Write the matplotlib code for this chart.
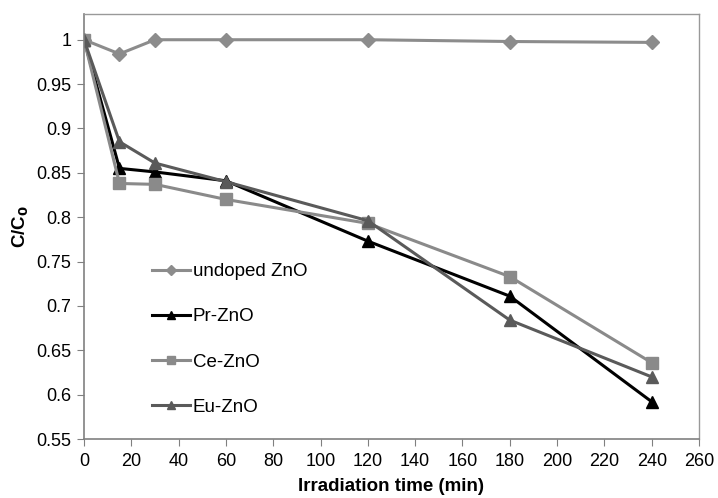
import matplotlib
matplotlib.use("Agg")
import matplotlib.pyplot as plt

plt.rcParams['font.family'] = ['Liberation Sans', 'DejaVu Sans']

time = [0, 15, 30, 60, 120, 180, 240]
undoped = [1.0, 0.984, 1.0, 1.0, 1.0, 0.998, 0.997]
pr = [1.0, 0.855, 0.851, 0.841, 0.773, 0.711, 0.592]
ce = [1.0, 0.838, 0.837, 0.820, 0.793, 0.733, 0.636]
eu = [1.0, 0.885, 0.861, 0.840, 0.796, 0.684, 0.620]

labels = ["undoped ZnO", "Pr-ZnO", "Ce-ZnO", "Eu-ZnO"]
xticks = list(range(0, 261, 20))
yticks = [0.55, 0.6, 0.65, 0.7, 0.75, 0.8, 0.85, 0.9, 0.95, 1.0]
ytick_labels = ["0.55", "0.6", "0.65", "0.7", "0.75", "0.8", "0.85", "0.9", "0.95", "1"]

fig = plt.figure(figsize=(7.18, 4.98), dpi=100)
ax = fig.add_axes([84/718, 1 - 439/498, (699-84)/718, (439-14)/498])

ax.plot(time, undoped, color='#8c8c8c', marker='D', markersize=7, lw=2.2, label=labels[0])
ax.plot(time, pr, color='#000000', marker='^', markersize=9, lw=2.2, label=labels[1])
ax.plot(time, ce, color='#8a8a8a', marker='s', markersize=8, lw=2.2, label=labels[2])
ax.plot(time, eu, color='#5a5a5a', marker='^', markersize=9, lw=2.2, label=labels[3])

ax.set_xlim(0, 260)
ax.set_ylim(0.55, 1.029)
ax.set_xticks(xticks)
ax.set_xticklabels([str(t) for t in xticks], fontsize=13)
ax.set_yticks(yticks)
ax.set_yticklabels(ytick_labels, fontsize=13)
ax.tick_params(direction='out', length=5, color='#808080', pad=4)
ax.tick_params(axis='x', pad=5)

for s in ['left', 'bottom']:
    ax.spines[s].set_color('#808080')
    ax.spines[s].set_linewidth(1.2)
for s in ['top', 'right']:
    ax.spines[s].set_color('#999999')
    ax.spines[s].set_linewidth(1.0)

ax.set_xlabel("Irradiation time (min)", fontsize=13.5, fontweight='bold', labelpad=6)
ax.set_ylabel("C/C$_\\mathbf{0}$", fontsize=13.5, fontweight='bold', labelpad=4)

leg = ax.legend(loc='upper left', bbox_to_anchor=(0.09, 0.445), frameon=False,
                fontsize=13.5, labelspacing=1.5, handlelength=2.0, handletextpad=0.15,
                markerscale=0.7, borderpad=0.2)

fig.savefig("out.png", dpi=100)
